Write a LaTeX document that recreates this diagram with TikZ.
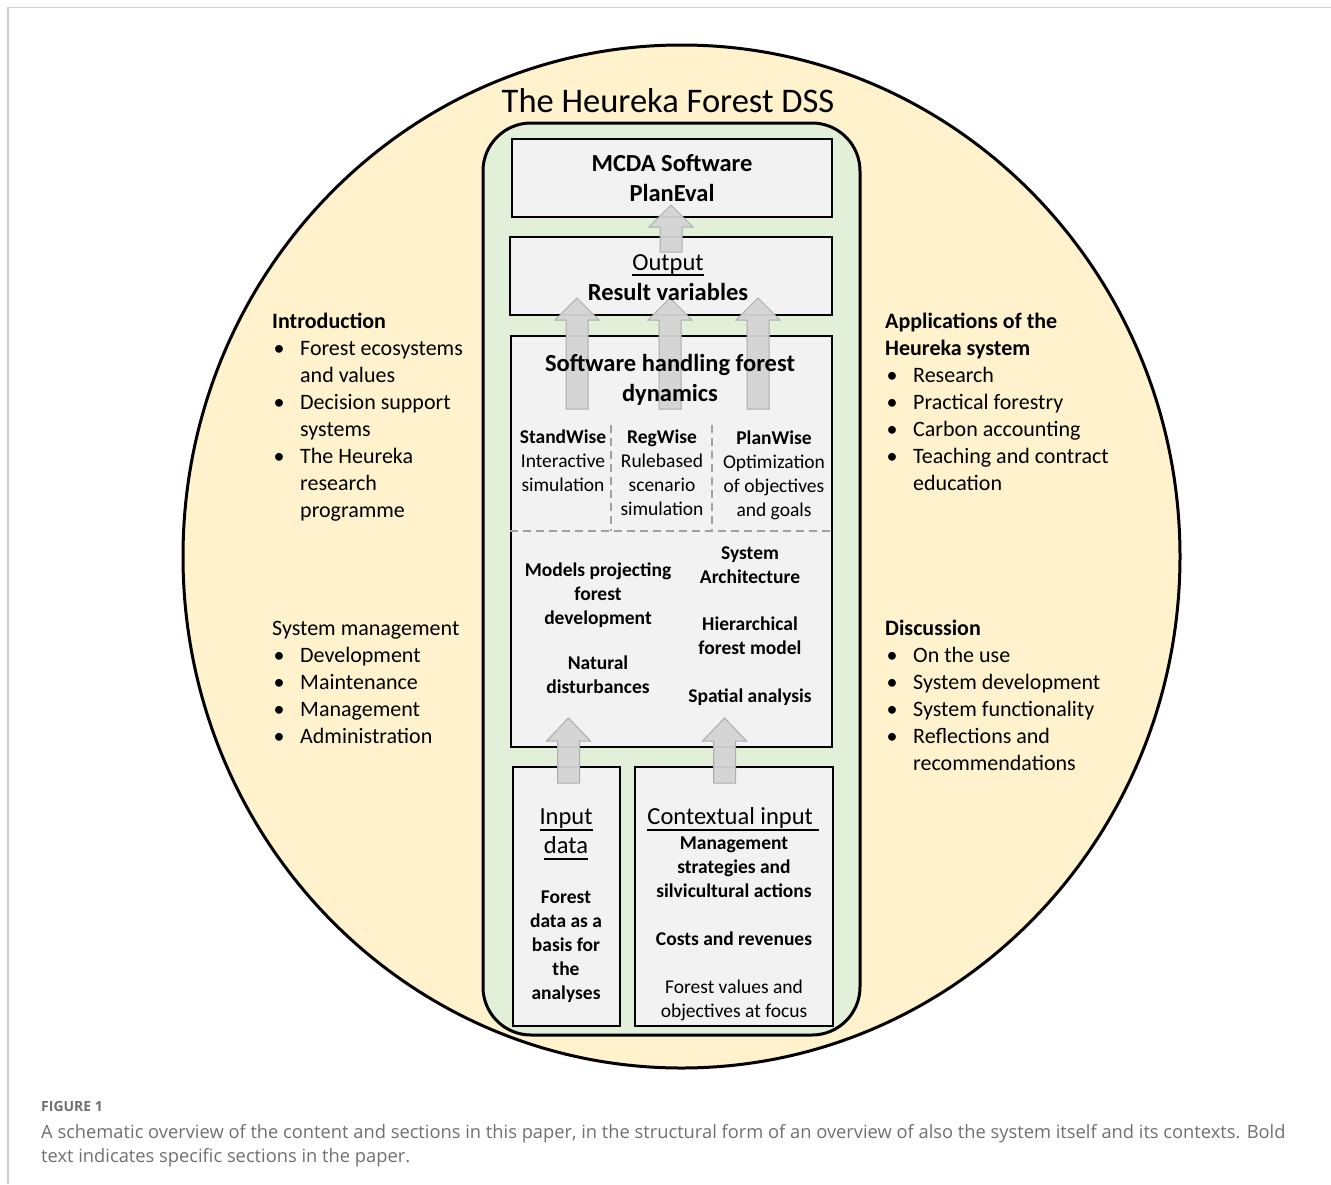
\documentclass[tikz,border=0pt]{standalone}
\usepackage{fontspec}
\setmainfont{Carlito}
\newfontfamily\capfont{Open Sans}
\definecolor{yelfill}{HTML}{FFF2CC}
\definecolor{grnfill}{HTML}{E2F0D9}
\definecolor{boxfill}{HTML}{F2F2F2}
\definecolor{arrfill}{HTML}{D4D4D4}
\definecolor{arrdraw}{HTML}{ACACAC}
\definecolor{dashcol}{HTML}{A0A0A0}
\definecolor{capgray}{HTML}{707070}
\definecolor{framegray}{HTML}{CFCFCF}
\newcommand\fBig{\fontsize{34.5}{40}\selectfont}
\newcommand\fA{\fontsize{24.5}{30}\selectfont}
\newcommand\fIn{\fontsize{24.5}{29}\selectfont}
\newcommand\fB{\fontsize{19.5}{24}\selectfont}
\newcommand\fSide{\fontsize{22}{27}\selectfont}
\newcommand\bl{\makebox[28pt][l]{\hspace{1.5pt}\textbullet}}
\newcommand\ind{\hspace*{28pt}}
\newcommand\uln[1]{\setbox0\hbox{#1}\rlap{\rule[-0.24em]{\wd0}{0.065em}}\box0}
\newcommand\blockarrow[4]{% x, tip, head base, bottom
  \filldraw[arrowstyle] (#1,#2) -- ({#1+22},#3) -- ({#1+11},#3) -- ({#1+11},#4)
    -- ({#1-11},#4) -- ({#1-11},#3) -- ({#1-22},#3) -- cycle;}
\begin{document}
\begin{tikzpicture}[x=1pt,y=-1pt,
  box/.style={draw=black, line width=2.6pt, fill=boxfill, inner sep=0pt},
  txt/.style={inner sep=0pt, align=center, text=black, yshift=-2pt},
  side/.style={inner sep=0pt, align=left, anchor=west, font=\fSide, yshift=-2pt},
  captext/.style={anchor=base west, inner sep=0pt, text=capgray},
  arrowstyle/.style={fill=arrfill, draw=arrdraw, line width=1pt, fill opacity=0.95},
  dashline/.style={draw=dashcol, line width=1.3pt, dash pattern=on 8pt off 5pt}]
\useasboundingbox (0,0) rectangle (1331,1184);
\fill[white] (0,0) rectangle (1331,1184);
% frame
\draw[framegray, line width=1.5pt] (8,1184) -- (8,7.5) -- (1331,7.5);
% big ellipse
\draw[line width=3pt, fill=yelfill] (681.5,556.5) ellipse [x radius=498.5, y radius=511.5];
\node[txt, font=\fBig] (title) at (668,98.5) {The Heureka Forest DSS};
% green container
\node[draw=black, line width=3pt, fill=grnfill, rounded corners=48pt,
  minimum width=377pt, minimum height=912pt, inner sep=0pt] (green) at (671.5,579) {};
% boxes
\node[box, minimum width=320pt, minimum height=78pt] (mcda) at (672,178) {};
\node[box, minimum width=322pt, minimum height=78pt] (out) at (671,276) {};
\node[box, minimum width=321pt, minimum height=411pt] (soft) at (671.5,541.5) {};
\node[box, minimum width=107pt, minimum height=259pt] (inp) at (566.5,896.5) {};
\node[box, minimum width=198pt, minimum height=259pt] (ctx) at (734,896.5) {};
% dashed separators
\coordinate (dl) at (soft.west |- 0,531);
\coordinate (dr) at (soft.east |- 0,531);
\coordinate (v1t) at (611,425);
\coordinate (v1b) at (611,531);
\coordinate (v2t) at (712,425);
\coordinate (v2b) at (712,531);
\draw[dashline] (dl) -- (dr);
\draw[dashline] (v1t) -- (v1b);
\draw[dashline] (v2t) -- (v2b);
% block arrows
\blockarrow{671}{205}{227}{252}
\blockarrow{577}{298}{320}{409}
\blockarrow{670}{298}{320}{409}
\blockarrow{758}{298}{320}{409}
\blockarrow{568.5}{718}{741}{783}
\blockarrow{724.5}{718}{741}{783}
% box texts
\node[txt, font=\fA\bfseries] (tmcda) at (672,178) {\strut MCDA Software\\\strut PlanEval};
\node[txt, font=\fA] (tout) at (668,277) {\strut\uln{Output}\\\strut\textbf{Result variables}};
\node[txt, font=\fA\bfseries] (tsoft) at (670,378) {\strut Software handling forest\\\strut dynamics};
\node[txt, font=\fB] (tstand) at (563,461) {\strut\textbf{StandWise}\\\strut Interactive\\\strut simulation};
\node[txt, font=\fB] (treg) at (662,472.5) {\strut\textbf{RegWise}\\\strut Rulebased\\\strut scenario\\\strut simulation};
\node[txt, font=\fB] (tplan) at (774,473.5) {\strut\textbf{PlanWise}\\\strut Optimization\\\strut of objectives\\\strut and goals};
\node[txt, font=\fB\bfseries] (tmod) at (598,594) {\strut Models projecting\\\strut forest\\\strut development};
\node[txt, font=\fB\bfseries] (tnat) at (598,675) {\strut Natural\\\strut disturbances};
\node[txt, font=\fB\bfseries] (tsys) at (750,564.5) {\strut System\\\strut Architecture};
\node[txt, font=\fB\bfseries] (thier) at (750,636) {\strut Hierarchical\\\strut forest model};
\node[txt, font=\fB\bfseries] (tspat) at (750,696) {\strut Spatial analysis};
\node[txt, font=\fIn] (tinp) at (566,831.5) {\strut\uln{Input}\\\strut\uln{data}};
\node[txt, font=\fB\bfseries] (tfor) at (566,945) {\strut Forest\\\strut data as a\\\strut basis for\\\strut the\\\strut analyses};
\node[txt, font=\fIn] (tctx) at (733,817) {\strut\uln{Contextual input\ }};
\node[txt, font=\fB\bfseries] (tman) at (734,866.5) {\strut Management\\\strut strategies and\\\strut silvicultural actions};
\node[txt, font=\fB\bfseries] (tcost) at (734,939) {\strut Costs and revenues};
\node[txt, font=\fB] (tval) at (734,999) {\strut Forest values and\\\strut objectives at focus};
% side texts
\node[side] (intro) at (272,416) {\strut\textbf{Introduction}\\
  \strut\bl Forest ecosystems\\\strut\ind and values\\
  \strut\bl Decision support\\\strut\ind systems\\
  \strut\bl The Heureka\\\strut\ind research\\\strut\ind programme};
\node[side] (sysman) at (272,682) {\strut System management\\
  \strut\bl Development\\\strut\bl Maintenance\\\strut\bl Management\\\strut\bl Administration};
\node[side] (appl) at (885,402.5) {\strut\textbf{Applications of the}\\\strut\textbf{Heureka system}\\
  \strut\bl Research\\\strut\bl Practical forestry\\\strut\bl Carbon accounting\\
  \strut\bl Teaching and contract\\\strut\ind education};
\node[side] (disc) at (885,695.5) {\strut\textbf{Discussion}\\
  \strut\bl On the use\\\strut\bl System development\\\strut\bl System functionality\\
  \strut\bl Reflections and\\\strut\ind recommendations};
% caption
\node[captext, font=\capfont\bfseries\fontsize{14}{16}\selectfont] (figlbl) at (41,1111) {FIGURE 1};
\node[captext, font=\capfont\fontsize{18.3}{24}\selectfont] (cap1) at (41,1138)
  {A schematic overview of the content and sections in this paper, in the structural form of an overview of also the system itself and its contexts. Bold};
\node[captext, font=\capfont\fontsize{18.3}{24}\selectfont] (cap2) at (41,1162)
  {text indicates specific sections in the paper.};
\end{tikzpicture}
\end{document}
